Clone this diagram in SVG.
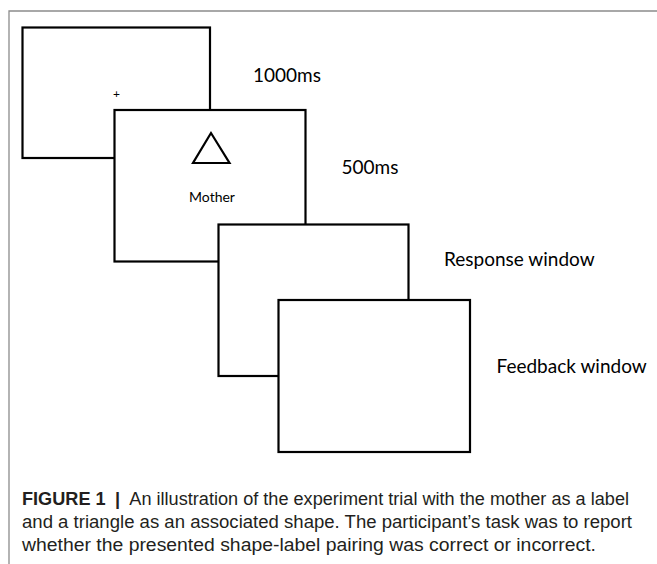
<svg xmlns="http://www.w3.org/2000/svg" width="657" height="564" viewBox="0 0 657 564">
<style>
.scr{fill:#fff;stroke:#000;stroke-width:2.2}
.lbl{font-family:Lato,"Liberation Sans",sans-serif;font-size:19px;fill:#000}
.cap{font-family:"Liberation Sans",Arial,sans-serif;font-size:17.5px;fill:#231f20}
.b{font-weight:bold}
</style>
<rect width="657" height="564" fill="#fff"/>
<path d="M9 564 V11 H657" fill="none" stroke="#8c8c8c" stroke-width="1.3"/>
<g id="screen-fixation">
<rect class="scr" x="22.5" y="27.5" width="187.5" height="130.5"/>
<text x="116.5" y="97.5" text-anchor="middle" font-family="Lato,sans-serif" font-size="12" fill="#000">+</text>
</g>
<g id="screen-stimulus">
<rect class="scr" x="114.5" y="110" width="191" height="151.5"/>
<polygon points="211,133 193,163 229.5,163" fill="none" stroke="#000" stroke-width="2.2" stroke-linejoin="miter"/>
<text x="212" y="201.5" text-anchor="middle" font-family="Lato,sans-serif" font-size="14" fill="#000">Mother</text>
</g>
<g id="screen-response">
<rect class="scr" x="218.5" y="224.5" width="190" height="151.5"/>
</g>
<g id="screen-feedback">
<rect class="scr" x="278.5" y="300" width="191.5" height="152"/>
</g>
<g id="connectors"></g>
<g id="labels">
<text class="lbl" x="253" y="81.5">1000ms</text>
<text class="lbl" x="341.5" y="174">500ms</text>
<text class="lbl" x="444" y="266">Response window</text>
<text class="lbl" x="496.5" y="373">Feedback window</text>
</g>
<g id="caption">
<text class="cap" x="22" y="505" textLength="607" lengthAdjust="spacingAndGlyphs"><tspan class="b">FIGURE 1</tspan><tspan class="b" dx="9">|</tspan><tspan dx="9">An illustration of the experiment trial with the mother as a label</tspan></text>
<text class="cap" x="22" y="528" textLength="610" lengthAdjust="spacingAndGlyphs">and a triangle as an associated shape. The participant’s task was to report</text>
<text class="cap" x="22" y="551" textLength="574" lengthAdjust="spacingAndGlyphs">whether the presented shape-label pairing was correct or incorrect.</text>
</g>
</svg>
